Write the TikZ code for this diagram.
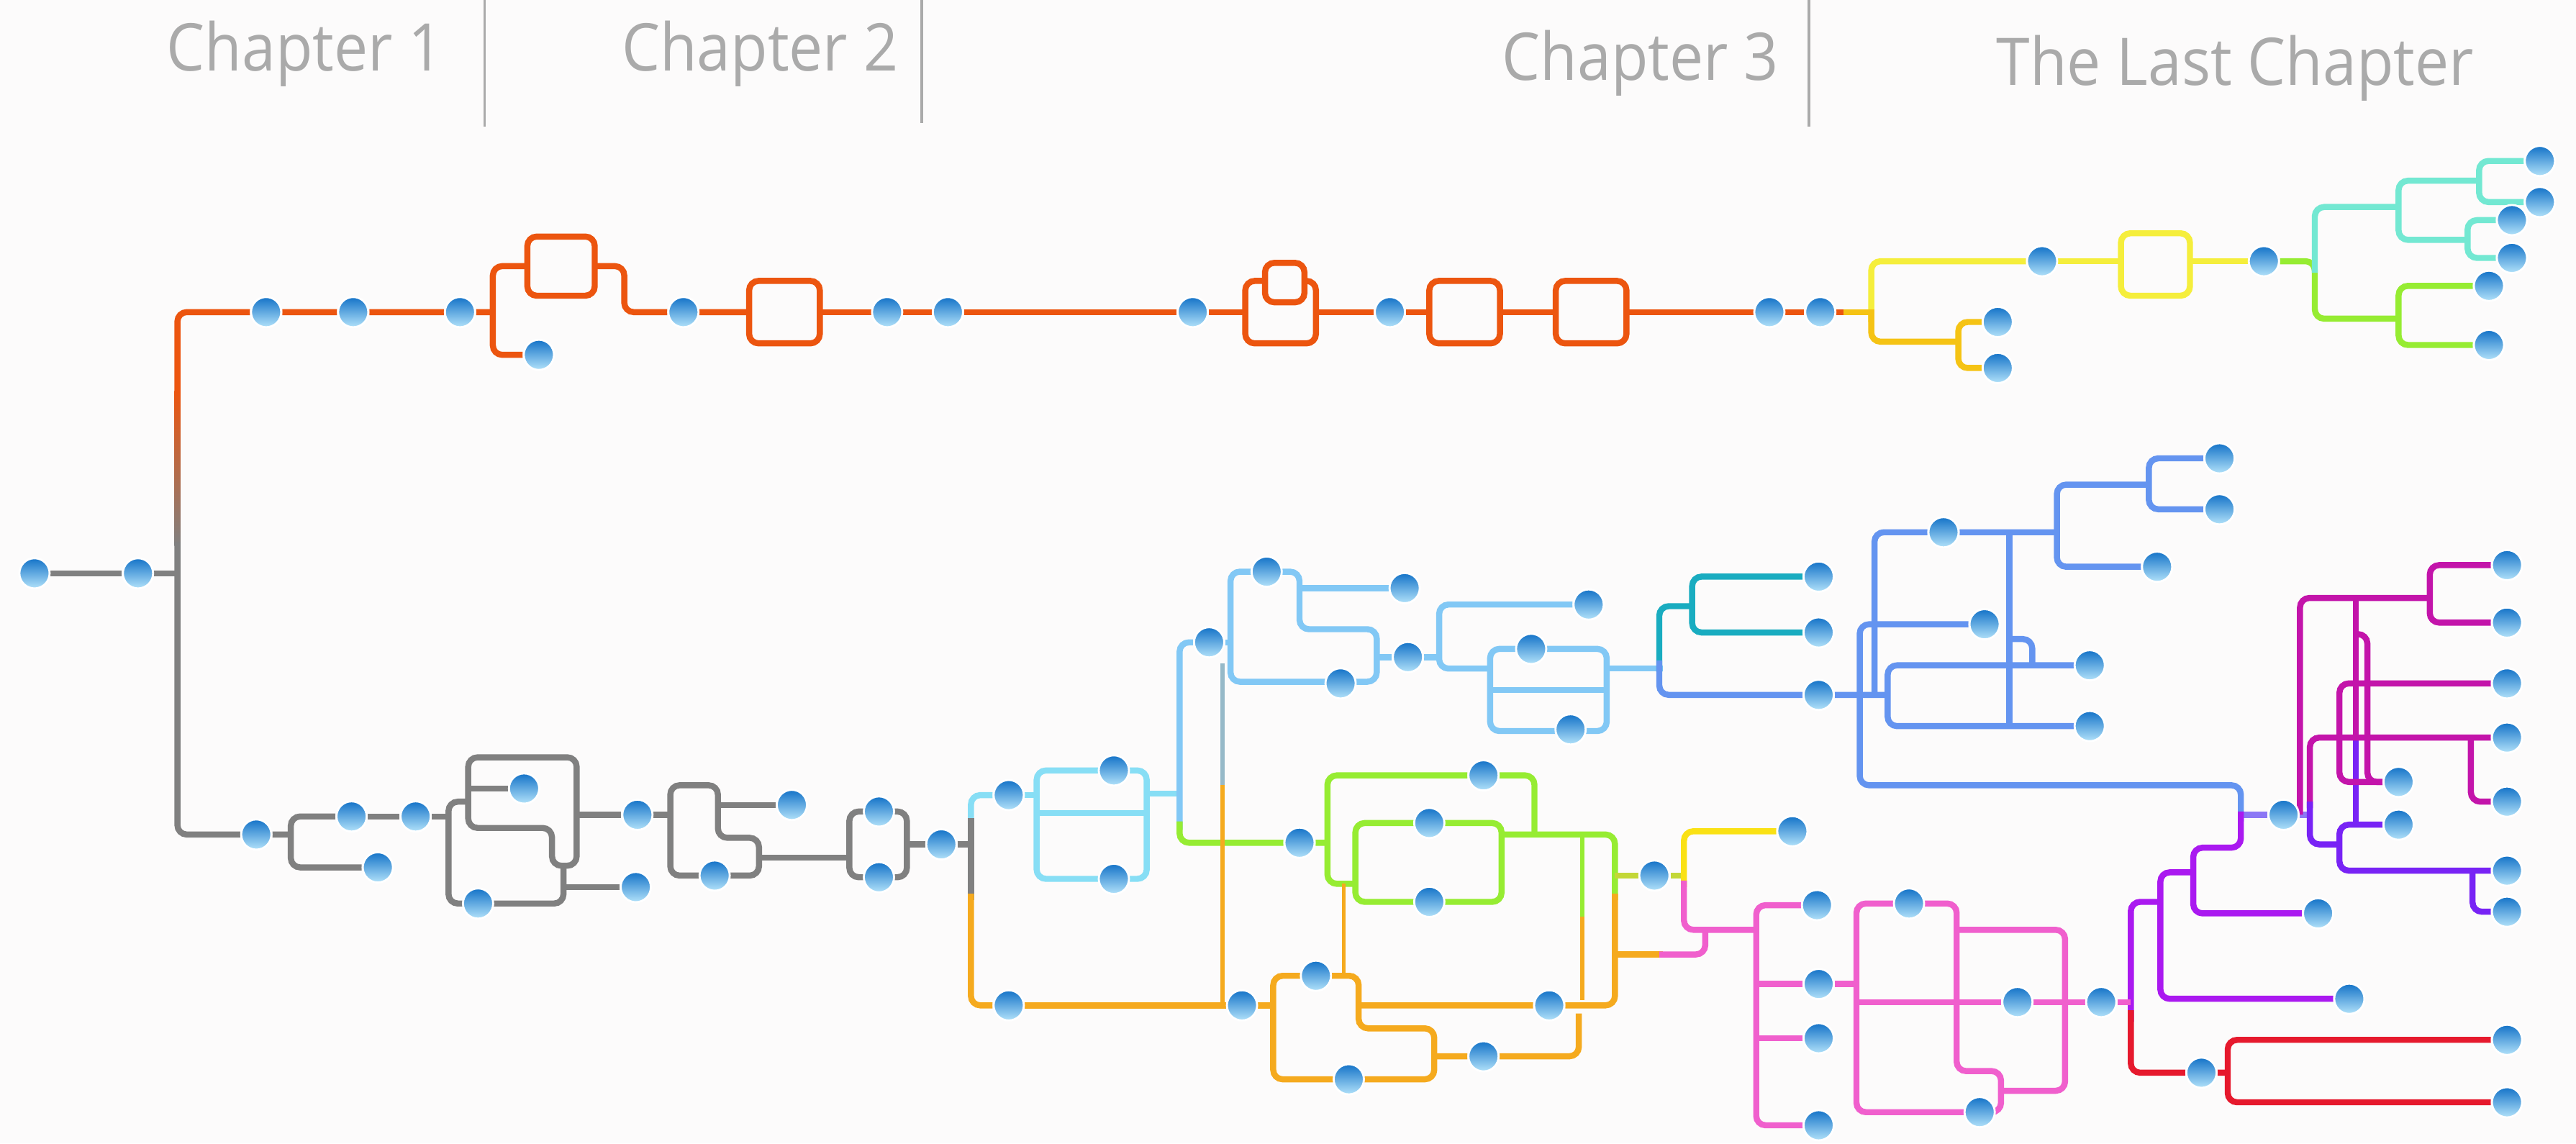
\documentclass[tikz,border=0pt]{standalone}
\usepackage{fontspec}
\newfontfamily\chapfont[FakeStretch=0.92]{Open Sans}
\usetikzlibrary{backgrounds}

\definecolor{bgcol}{RGB}{252,251,251}
\definecolor{chaptergray}{RGB}{170,170,170}
\definecolor{dotdark}{RGB}{20,115,200}
\definecolor{dotlight}{RGB}{178,226,250}
\definecolor{storyorange}{RGB}{236,85,15}
\definecolor{storygray}{RGB}{128,128,128}
\definecolor{storygold}{RGB}{245,195,20}
\definecolor{storyyellow}{RGB}{245,238,60}
\definecolor{storylime}{RGB}{150,236,50}
\definecolor{storyaqua}{RGB}{115,232,210}
\definecolor{storycyan}{RGB}{135,222,245}
\definecolor{storysky}{RGB}{130,200,245}
\definecolor{storysteel}{RGB}{150,185,200}
\definecolor{storyteal}{RGB}{25,172,192}
\definecolor{storyblue}{RGB}{100,148,240}
\definecolor{storylavender}{RGB}{140,120,245}
\definecolor{storyamber}{RGB}{245,170,30}
\definecolor{storypink}{RGB}{240,95,205}
\definecolor{storypurple}{RGB}{170,25,240}
\definecolor{storyviolet}{RGB}{120,35,245}
\definecolor{storymagenta}{RGB}{195,20,170}
\definecolor{storyred}{RGB}{230,25,45}
\definecolor{storyolive}{RGB}{195,215,55}
\definecolor{storyyellowb}{RGB}{250,225,20}

\begin{document}
\begin{tikzpicture}[
x=0.022832cm, y=-0.022832cm,
ln/.style={line width=2.4pt, rounded corners=1.3mm},
thin/.style={line width=1.6pt, rounded corners=1.3mm},
orangeline/.style={ln, draw=storyorange},
grayline/.style={ln, draw=storygray},
goldline/.style={ln, draw=storygold},
yellowline/.style={ln, draw=storyyellow},
limeline/.style={ln, draw=storylime},
aqualine/.style={ln, draw=storyaqua},
cyanline/.style={ln, draw=storycyan},
skyline/.style={ln, draw=storysky},
tealline/.style={ln, draw=storyteal},
blueline/.style={ln, draw=storyblue},
lavenderline/.style={ln, draw=storylavender},
amberline/.style={ln, draw=storyamber},
pinkline/.style={ln, draw=storypink},
purpleline/.style={ln, draw=storypurple},
violetline/.style={ln, draw=storyviolet},
magentaline/.style={ln, draw=storymagenta},
redline/.style={ln, draw=storyred},
oliveline/.style={ln, draw=storyolive},
yellowbline/.style={ln, draw=storyyellowb},
divider/.style={line width=1pt, draw=chaptergray},
chapter/.style={font=\chapfont\fontsize{26}{30}\selectfont, text=chaptergray, inner sep=0pt},
dot/.style={circle, draw=white, line width=0.8pt, minimum size=4.2mm, inner sep=0pt,
top color=dotdark, bottom color=dotlight}]

\useasboundingbox (0,0) rectangle (1568,696);

% chapter headings
\node[chapter, anchor=base east] (ch1) at (270,43) {Chapter 1};
\node[chapter, anchor=base east] (ch2) at (547,43) {Chapter 2};
\node[chapter, anchor=base east] (ch3) at (1083,49) {Chapter 3};
\node[chapter, anchor=base west] (ch4) at (1215,52) {The Last Chapter};
\draw[divider] (295,0) -- (295,77);
\draw[divider] (561,0) -- (561,75);
\draw[divider] (1101,0) -- (1101,77);

% events
\foreach \n/\x/\y in {
o1/162/190, o2/215/190, o3/280/190, o4/328/216, o5/416/190, o6/540/190,
o7/577/190, o8/726/190, o9/846/190, o10/1077/190, o11/1108/190,
y1/1243/159, y2/1216/196, y3/1216/224, y4/1378/159,
t1/1546/98, t2/1546/123, t3/1529/134, t4/1529/157, t5/1515/174, t6/1515/210,
g1/21/349, g2/84/349, g3/156/508, g4/214/497, g5/253/497, g6/230/528,
g7/319/480, g8/291/550, g9/387/540, g10/388/496, g11/482/490, g12/435/533,
g13/535/494, g14/535/534, g15/573/514,
c1/614/484, c2/614/612, c3/678/469, c4/678/535, c5/736/391, c6/771/348,
c7/855/358, c8/816/416, c9/857/400, c10/967/368, c11/932/395, c12/956/444,
c13/1107/351, c14/1107/385, c15/1107/423,
l1/791/513, l2/903/472, l3/870/501, l4/870/549, l5/1007/533, l6/1091/506,
a1/756/612, a2/801/594, a3/821/657, a4/943/612, a5/903/643,
b1/1183/324, b2/1351/279, b3/1351/310, b4/1313/345, b5/1208/380,
b6/1272/405, b7/1272/442,
p1/1390/496, p2/1411/556, p3/1430/608,
m1/1526/344, m2/1526/379, m3/1526/416, m4/1526/449, m5/1526/488,
m6/1460/476, m7/1460/502, v1/1526/530, v2/1526/555,
r1/1340/653, r2/1526/633, r3/1526/671,
k1/1106/551, k2/1107/599, k3/1107/632, k4/1107/685, k5/1162/550,
k6/1205/677, k7/1228/610, k8/1279/610}
  \node[dot] (\n) at (\x,\y) {};

\begin{pgfonlayer}{background}
\fill[bgcol] (0,0) rectangle (1568,696);

% upper story line
\draw[orangeline] (108,240) -- (108,190) -- (o1) -- (o2) -- (o3) -- (300,190);
\shade[top color=storyorange, bottom color=storygray] (106.15,238) rectangle (109.85,332);
\draw[orangeline] (o4) -- (300,216) -- (300,162) -- (321,162);
\draw[orangeline] (321,144) rectangle (362,180);
\draw[orangeline] (362,162) -- (380,162) -- (380,190) -- (o5) -- (456,190);
\draw[orangeline] (456,171) rectangle (499,209);
\draw[orangeline] (499,190) -- (o6) -- (o7) -- (o8) -- (758,190);
\draw[orangeline] (770,171) -- (758,171) -- (758,209) -- (801,209) -- (801,171) -- (794,171);
\draw[orangeline] (770,160) rectangle (794,184);
\draw[orangeline] (801,190) -- (o9) -- (870,190);
\draw[orangeline] (870,171) rectangle (913,209);
\draw[orangeline] (913,190) -- (947,190);
\draw[orangeline] (947,171) rectangle (990,209);
\draw[orangeline] (990,190) -- (o10) -- (o11) -- (1126,190);

\draw[yellowline] (y1) -- (1139,159) -- (1139,196);
\draw[goldline] (1122,190) -- (1141,190);
\draw[goldline] (1139,190) -- (1139,208) -- (1192,208);
\draw[goldline] (y2) -- (1192,196) -- (1192,224) -- (y3);
\draw[yellowline] (y1) -- (1291,159);
\draw[yellowline] (1291,142) rectangle (1333,180);
\draw[yellowline] (1333,159) -- (y4);
\draw[limeline] (y4) -- (1409,159) -- (1409,194) -- (1460,194);
\draw[aqualine] (1409,166) -- (1409,126) -- (1460,126);
\draw[aqualine] (1509,110) -- (1460,110) -- (1460,146) -- (1502,146);
\draw[aqualine] (t1) -- (1509,98) -- (1509,123) -- (t2);
\draw[aqualine] (t3) -- (1502,134) -- (1502,157) -- (t4);
\draw[limeline] (t5) -- (1460,174) -- (1460,210) -- (t6);

% lower story line
\draw[grayline] (g1) -- (g2) -- (108,349);
\draw[grayline] (108,330) -- (108,508) -- (g3) -- (177,508);
\draw[grayline] (g4) -- (177,497) -- (177,528) -- (g6);
\draw[grayline] (g4) -- (g5) -- (273,497);
\draw[grayline] (285,488) -- (273,488) -- (273,550) -- (343,550) -- (343,527);
\draw[grayline] (336,515) -- (336,504) -- (285,504) -- (285,461) -- (351,461) -- (351,527) -- (336,527) -- cycle;
\draw[grayline] (285,480) -- (g7);
\draw[grayline] (343,540) -- (g9);
\draw[grayline] (351,496) -- (g10) -- (408,496);
\draw[grayline] (408,496) -- (408,478) -- (437,478) -- (437,510) -- (462,510) -- (462,533) -- (408,533) -- cycle;
\draw[grayline] (437,490) -- (g11);
\draw[grayline] (462,522) -- (517,522);
\draw[grayline] (517,494) rectangle (552,534);
\draw[grayline] (552,514) -- (g15) -- (591,514);

\draw[cyanline] (c1) -- (591,484) -- (591,502);
\draw[grayline] (591,498) -- (591,548);
\draw[amberline] (591,544) -- (591,612) -- (c2);
\draw[amberline] (c2) -- (a1) -- (775,612);
\draw[cyanline] (c1) -- (631,484);
\draw[cyanline] (631,469) rectangle (698,535);
\draw[cyanline] (631,495) -- (698,495);
\draw[cyanline] (698,483) -- (718,483);
\draw[skyline] (c5) -- (718,391) -- (718,505);
\draw[limeline] (718,500) -- (718,513) -- (l1) -- (808,513);
\draw[thin, draw=storysteel] (744,404) -- (744,482);
\draw[thin, draw=storyamber] (744,478) -- (744,612);

\draw[skyline] (c5) -- (749,391);
\draw[skyline] (749,391) -- (749,348) -- (791,348) -- (791,383) -- (838,383) -- (838,415) -- (749,415) -- cycle;
\draw[skyline] (791,358) -- (c7);
\draw[skyline] (838,400) -- (c9) -- (876,400);
\draw[skyline] (c10) -- (876,368) -- (876,407) -- (907,407);
\draw[skyline] (907,395) rectangle (978,445);
\draw[skyline] (907,420) -- (978,420);
\draw[skyline] (978,407) -- (1012,407);
\draw[tealline] (1010,409) -- (1010,369) -- (1030,369);
\draw[tealline] (c13) -- (1030,351) -- (1030,385) -- (c14);
\draw[blueline] (1010,402) -- (1010,423) -- (c15) -- (1149,423);

\draw[blueline] (b5) -- (1132,380) -- (1132,478) -- (1364,478) -- (1364,500);
\draw[blueline] (1141,423) -- (1141,324) -- (b1) -- (1252,324);
\draw[blueline] (1308,295) -- (1252,295) -- (1252,345) -- (b4);
\draw[blueline] (b2) -- (1308,279) -- (1308,310) -- (b3);
\draw[blueline] (1223,324) -- (1223,442);
\draw[blueline] (b6) -- (1149,405) -- (1149,442) -- (b7);
\draw[blueline] (1223,389) -- (1237,389) -- (1237,405);

\draw[lavenderline] (1364,496) -- (p1) -- (1406,496);
\draw[magentaline] (1400,496) -- (1400,364) -- (1479,364);
\draw[magentaline] (m1) -- (1479,344) -- (1479,379) -- (m2);
\draw[magentaline] (1434,364) -- (1434,452);
\draw[violetline] (1434,448) -- (1434,502);
\draw[magentaline] (1434,386) -- (1441,386) -- (1441,476) -- (m6);
\draw[magentaline] (m3) -- (1424,416) -- (1424,476) -- (m6);
\draw[magentaline] (m4) -- (1406,449) -- (1406,492);
\draw[violetline] (1406,488) -- (1406,514) -- (1424,514);
\draw[magentaline] (1504,449) -- (1504,488) -- (m5);
\draw[violetline] (m7) -- (1424,502) -- (1424,530) -- (v1);
\draw[violetline] (1505,530) -- (1505,555) -- (v2);

\draw[purpleline] (1364,494) -- (1364,516) -- (1335,516) -- (1335,556) -- (p2);
\draw[purpleline] (1335,531) -- (1315,531) -- (1315,608) -- (p3);
\draw[purpleline] (1315,549) -- (1297,549) -- (1297,622);
\draw[redline] (1297,615) -- (1297,653) -- (r1) -- (1356,653);
\draw[redline] (r2) -- (1356,633) -- (1356,671) -- (r3);
\draw[pinkline] (k8) -- (1297,610);

\draw[limeline] (934,508) -- (934,472) -- (l2) -- (808,472) -- (808,538) -- (825,538);
\draw[limeline] (825,501) rectangle (914,549);
\draw[limeline] (914,508) -- (983,508) -- (983,548);
\draw[amberline] (983,544) -- (983,612) -- (a4) -- (827,612);
\draw[thin, draw=storylime] (963,510) -- (963,562);
\draw[thin, draw=storyamber] (963,558) -- (963,609);
\draw[thin, draw=storyamber] (818,538) -- (818,594);
\draw[amberline] (775,612) -- (775,657) -- (873,657) -- (873,626) -- (827,626) -- (827,594) -- (775,594) -- cycle;
\draw[amberline] (873,643) -- (a5) -- (961,643) -- (961,617);

\draw[oliveline] (983,533) -- (l5) -- (1025,533);
\draw[yellowbline] (l6) -- (1025,506) -- (1025,540);
\draw[pinkline] (1025,536) -- (1025,566) -- (1069,566);
\draw[amberline] (983,581) -- (1012,581);
\draw[pinkline] (1010,581) -- (1038,581) -- (1038,566);
\draw[pinkline] (k1) -- (1069,551) -- (1069,685) -- (k4);
\draw[pinkline] (1069,599) -- (k2) -- (1130,599);
\draw[pinkline] (1069,632) -- (k3);
\draw[pinkline] (1160,550) -- (1191,550) -- (1191,652) -- (1218,652) -- (1218,677) -- (1130,677) -- (1130,550) -- cycle;
\draw[pinkline] (1191,566) -- (1257,566) -- (1257,664) -- (1218,664);
\draw[pinkline] (1130,610) -- (k7) -- (k8);
\end{pgfonlayer}

\end{tikzpicture}
\end{document}
